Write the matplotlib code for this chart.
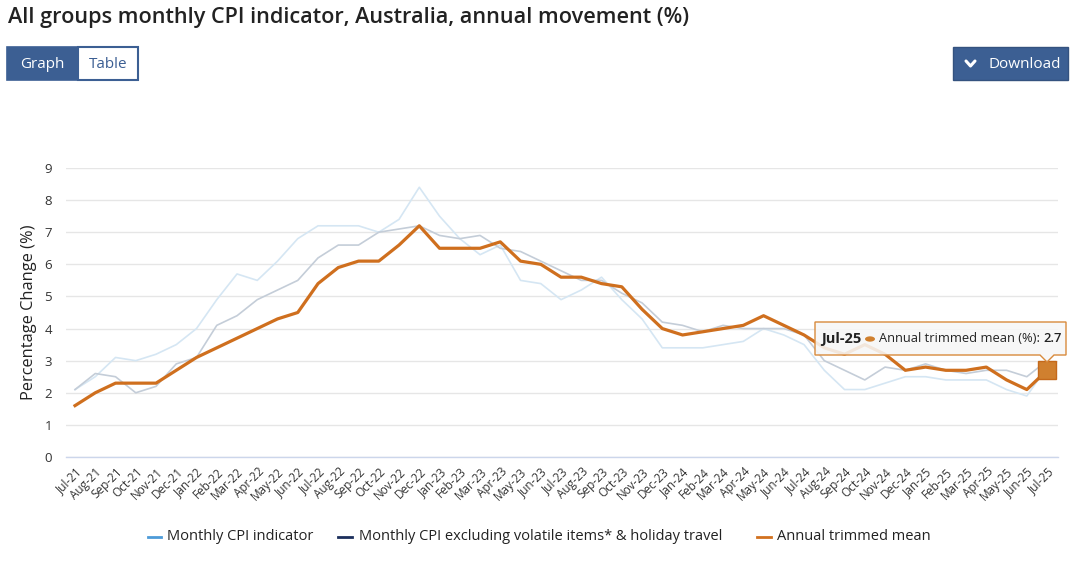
import numpy as np
import pandas as pd
import matplotlib
matplotlib.use("Agg")
import matplotlib.pyplot as plt
from matplotlib.lines import Line2D
from matplotlib.patches import Rectangle, Polygon, Circle

plt.rcParams['font.family'] = ['Open Sans', 'DejaVu Sans']

# categories Jul-21 .. Jul-25
months = list(pd.date_range('2021-07-01', periods=49, freq='MS').strftime('%b-%y'))

monthly_cpi = [2.1, 2.5, 3.1, 3.0, 3.2, 3.5,
               4.0, 4.9, 5.7, 5.5, 6.1, 6.8, 7.2, 7.2, 7.2, 7.0, 7.4, 8.4,
               7.5, 6.8, 6.3, 6.6, 5.5, 5.4, 4.9, 5.2, 5.6, 4.9, 4.3, 3.4,
               3.4, 3.4, 3.5, 3.6, 4.0, 3.8, 3.5, 2.7, 2.1, 2.1, 2.3, 2.5,
               2.5, 2.4, 2.4, 2.4, 2.1, 1.9, 2.8]

excl_volatile = [2.1, 2.6, 2.5, 2.0, 2.2, 2.9,
                 3.1, 4.1, 4.4, 4.9, 5.2, 5.5, 6.2, 6.6, 6.6, 7.0, 7.1, 7.2,
                 6.9, 6.8, 6.9, 6.5, 6.4, 6.1, 5.8, 5.5, 5.5, 5.1, 4.8, 4.2,
                 4.1, 3.9, 4.1, 4.0, 4.0, 4.0, 3.8, 3.0, 2.7, 2.4, 2.8, 2.7,
                 2.9, 2.7, 2.6, 2.7, 2.7, 2.5, 3.0]

trimmed_mean = [1.6, 2.0, 2.3, 2.3, 2.3, 2.7,
                3.1, 3.4, 3.7, 4.0, 4.3, 4.5, 5.4, 5.9, 6.1, 6.1, 6.6, 7.2,
                6.5, 6.5, 6.5, 6.7, 6.1, 6.0, 5.6, 5.6, 5.4, 5.3, 4.6, 4.0,
                3.8, 3.9, 4.0, 4.1, 4.4, 4.1, 3.8, 3.4, 3.2, 3.5, 3.2, 2.7,
                2.8, 2.7, 2.7, 2.8, 2.4, 2.1, 2.7]

series_names = ['Monthly CPI indicator',
                'Monthly CPI excluding volatile items* & holiday travel',
                'Annual trimmed mean']
legend_colors = ['#4d9bd8', '#1c2f5c', '#d2711f']

W, H = 1080, 575
BTN = '#3c5f93'
TXT = '#333333'


def px(x, y):
    # pixel (from top-left) -> figure fraction
    return x / W, 1 - y / H


fig = plt.figure(figsize=(W / 100, H / 100), dpi=100)
fig.patch.set_facecolor('white')

# plot area
x0, x1, ytop, ybot = 65.7, 1058, 168, 457
ax = fig.add_axes([x0 / W, 1 - ybot / H, (x1 - x0) / W, (ybot - ytop) / H])
x = np.arange(len(months))
ax.plot(x, monthly_cpi, color='#d5e6f3', lw=1.2, zorder=2)
ax.plot(x, excl_volatile, color='#c4cdd8', lw=1.2, zorder=2)
ax.plot(x, trimmed_mean, color='#cf6f1e', lw=2.3, zorder=3,
        solid_joinstyle='round')
ax.plot(x[-1], trimmed_mean[-1], marker='s', markersize=12.5,
        markerfacecolor='#d0802f', markeredgecolor='#c4691b',
        markeredgewidth=1, zorder=4, clip_on=False)

ax.set_xlim(-0.46, len(months) - 0.46)
ax.set_ylim(0, 9)
ax.set_yticks(range(0, 10))
ax.set_xticks(x)
ax.set_xticklabels(months, rotation=45, ha='right', rotation_mode='anchor',
                   fontsize=8.5, color=TXT)
ax.tick_params(axis='x', length=0, pad=6)
ax.tick_params(axis='y', length=0, pad=10, labelsize=9.5, labelcolor=TXT)
ax.grid(axis='y', color='#e6e6e6', lw=1)
ax.set_axisbelow(True)
for s in ['top', 'right', 'left']:
    ax.spines[s].set_visible(False)
ax.spines['bottom'].set_color('#ccd6eb')
ax.spines['bottom'].set_linewidth(1)
ax.set_ylabel('Percentage Change (%)', fontsize=11.8, color='#222222')
ax.yaxis.set_label_coords((37 - x0) / (x1 - x0), 0.5)

# title
fig.text(*px(8, 18), 'All groups monthly CPI indicator, Australia, annual movement (%)',
         fontsize=15.6, fontweight='semibold', color='#222222', va='center', ha='left')

# Graph / Table buttons
bx, by = px(7, 80)
fig.add_artist(Rectangle((bx, by), 71 / W, 33 / H, transform=fig.transFigure,
                         facecolor=BTN, edgecolor=BTN, lw=1.2))
bx2, _ = px(78, 80)
fig.add_artist(Rectangle((bx2, by), 60 / W, 33 / H, transform=fig.transFigure,
                         facecolor='white', edgecolor=BTN, lw=1.5))
fig.text(*px(42, 64), 'Graph', color='white', fontsize=11, ha='center', va='center')
fig.text(*px(108, 64), 'Table', color=BTN, fontsize=11, ha='center', va='center')

# Download button
dx, dy = px(953, 80)
fig.add_artist(Rectangle((dx, dy), 115 / W, 33 / H, transform=fig.transFigure,
                         facecolor=BTN, edgecolor='#34527f', lw=1))
cx = [966, 970.5, 975]
cy = [61, 66, 61]
fig.add_artist(Line2D([c / W for c in cx], [1 - c / H for c in cy],
                      transform=fig.transFigure, color='white', lw=2.2,
                      solid_capstyle='round', solid_joinstyle='round'))
fig.text(*px(988, 64), 'Download', color='white', fontsize=11, ha='left', va='center')

# legend
leg_line = [(148, 161), (338, 352), (757, 771)]
leg_text = [167, 359, 777]
for (la, lb), tx, name, col in zip(leg_line, leg_text, series_names, legend_colors):
    fig.add_artist(Line2D([la / W, lb / W], [1 - 537 / H, 1 - 537 / H],
                          transform=fig.transFigure, color=col, lw=2))
    fig.text(*px(tx, 537), name, fontsize=10.5, color='#222222', ha='left', va='center')

# tooltip
tip = [(815, 322), (1066, 322), (1066, 355), (1054, 355), (1047, 362),
       (1040, 355), (815, 355)]
fig.add_artist(Polygon([px(a, b) for a, b in tip], closed=True,
                       transform=fig.transFigure, facecolor='#f7f7f7',
                       alpha=0.88, edgecolor='none'))
fig.add_artist(Polygon([px(a, b) for a, b in tip], closed=True,
                       transform=fig.transFigure, facecolor='none',
                       edgecolor='#d88a3c', lw=1))
fig.text(*px(821, 339), months[-1], fontsize=10.5, fontweight='bold',
         color='#222222', ha='left', va='center')
fig.add_artist(Circle(px(870, 339), 5 / W, transform=fig.transFigure,
                      facecolor='#d0802f', edgecolor='none'))
t1 = fig.text(*px(879, 339), 'Annual trimmed mean (%):', fontsize=9.3,
              color='#222222', ha='left', va='center')
fig.canvas.draw()
end_x = t1.get_window_extent().x1 / W
fig.text(end_x + 3 / W, 1 - 339 / H, f'{trimmed_mean[-1]}', fontsize=9.3,
         fontweight='semibold', color='#222222', ha='left', va='center')

fig.savefig('out.png', dpi=100)
